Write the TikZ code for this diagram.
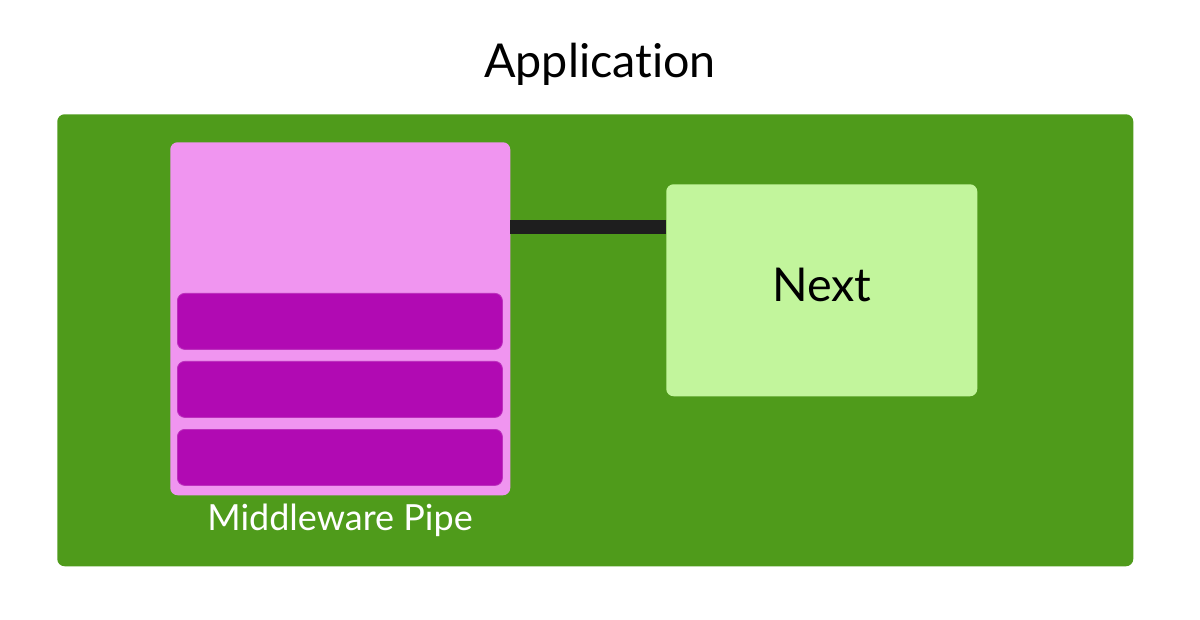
\documentclass[tikz,border=0pt]{standalone}
\usepackage{fontspec}
\setmainfont{Lato}[Ligatures = NoCommon]
\usetikzlibrary{positioning}

\definecolor{appgreen}{HTML}{4F9B1B}
\definecolor{pipepink}{HTML}{F095F0}
\definecolor{stagepurple}{HTML}{B10AB3}
\definecolor{nextgreen}{HTML}{C2F59C}
\definecolor{linkgray}{HTML}{1E1E1E}

\begin{document}
\begin{tikzpicture}[x = 0.75pt, y = -0.75pt]
	\tikzstyle{boxStyle} = [rectangle, rounded corners = 5.5pt, inner sep = 0pt, anchor = north west]
	\tikzstyle{stageStyle} = [boxStyle, fill = stagepurple, draw = stagepurple!85!white, line width = 0.6pt, minimum width = 243.75pt, minimum height = 42pt]
	\tikzstyle{bigText} = [font = \fontsize{35}{40}\selectfont]
	\tikzstyle{linkStyle} = [draw = linkgray, line width = 10pt]
	\useasboundingbox (0,0) rectangle (1200,620);
	\node[bigText, anchor = base] (title) at (600,78) {Application};
	\node[boxStyle, fill = appgreen, minimum width = 807pt, minimum height = 339pt] (app) at (57,114) {};
	\node[boxStyle, fill = pipepink, minimum width = 255pt, minimum height = 264.75pt] (pipe) at (170,142) {};
	\foreach \y/\name in {293/s1, 361/s2, 429/s3}
		\node[stageStyle] (\name) at (177,\y) {};
	\node[anchor = base, text = white, font = \fontsize{27}{31}\selectfont] (pipelabel) at (340,530) {Middleware Pipe};
	\node[boxStyle, fill = nextgreen, minimum width = 233.25pt, minimum height = 159pt] (next) at (666,184) {};
	\node[bigText, anchor = base] (nextlabel) at (822,302) {Next};
	\coordinate (link) at (510,227);
	\draw[linkStyle] (link) -- (link -| next.west);
\end{tikzpicture}
\end{document}
